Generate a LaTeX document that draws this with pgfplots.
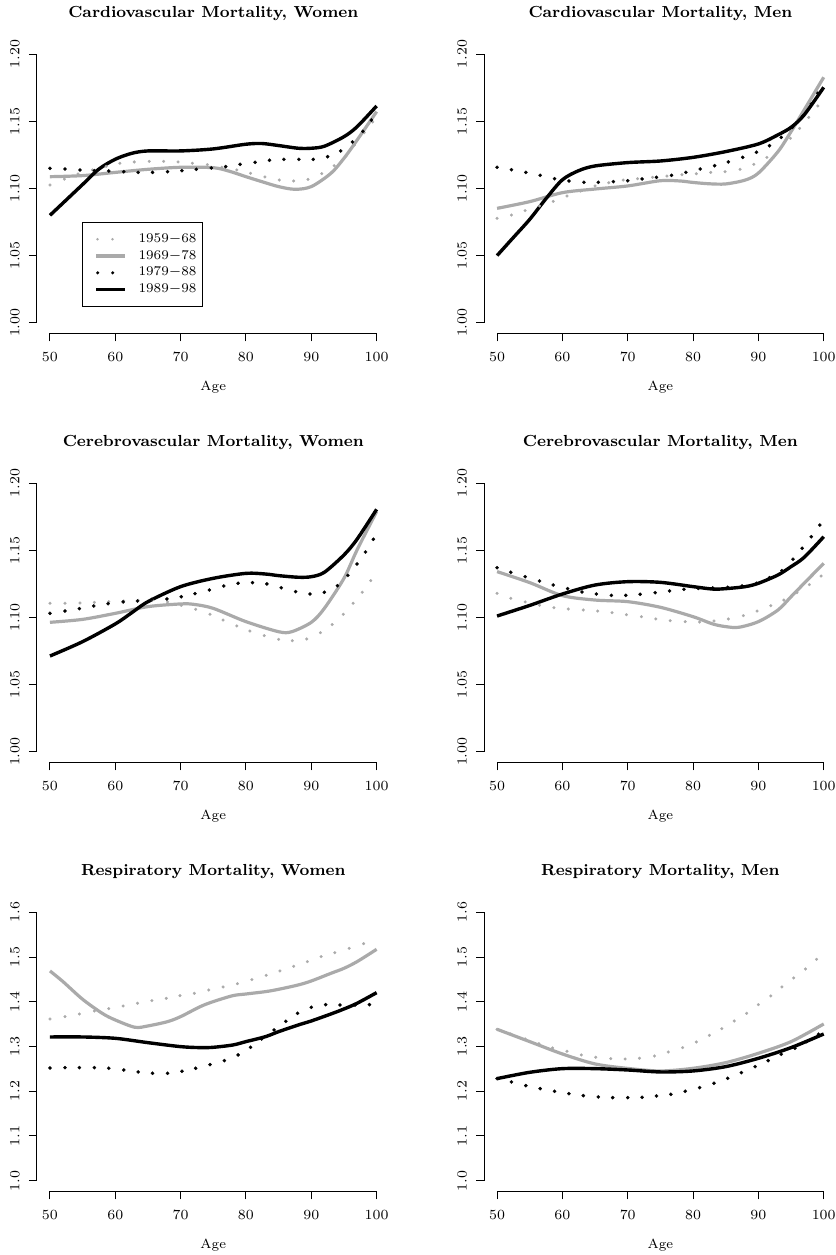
\documentclass[border=0pt]{standalone}
\usepackage{pgfplots}
\pgfplotsset{compat=1.18}
\definecolor{rgray}{RGB}{170,170,170}
\newcommand{\tfont}{\fontsize{6.67}{8}\selectfont}
\newcommand{\hfont}{\fontsize{8}{9.6}\selectfont\bfseries}
\pgfplotsset{
  rplot/.style={
    scale only axis, width=176.4pt, height=144.9pt,
    xmin=48, xmax=102,
    axis line style={draw=none},
    tick align=outside,
    xtick pos=left, ytick pos=left,
    major tick length=4pt,
    every tick/.style={black, line width=0.5pt},
    xtick={50,60,70,80,90,100},
    tick label style={font=\tfont},
    xticklabel style={anchor=center, yshift=-7.8pt},
    yticklabel style={xshift=-7pt, rotate=90, anchor=center},
    title style={font=\hfont, at={(0.5,1)}, anchor=center, yshift=9.25pt},
    xlabel={Age},
    xlabel style={font=\tfont, at={(axis description cs:0.5,0)}, anchor=center, yshift=-26.8pt},
    clip=false,
    extra description/.code={
      \draw[line width=0.5pt] (axis description cs:0.037037,0) -- (axis description cs:0.962963,0);
      \draw[line width=0.5pt] (axis description cs:0,0.037037) -- (axis description cs:0,0.962963);
    },
  },
  rowA/.style={ymin=0.992, ymax=1.208, ytick={1,1.05,1.1,1.15,1.2},
    yticklabel style={/pgf/number format/.cd, fixed, fixed zerofill, precision=2}},
  rowB/.style={ymin=0.976, ymax=1.624, ytick={1,1.1,1.2,1.3,1.4,1.5,1.6},
    yticklabel style={/pgf/number format/.cd, fixed, fixed zerofill, precision=1}},
  gdots/.style={only marks, mark=*, color=rgray, mark size=0.72pt,
    mark options={solid, draw=rgray, fill=rgray, line width=0.1pt}},
  kdots/.style={only marks, mark=*, color=black, mark size=0.85pt,
    mark options={solid, draw=black, fill=black, line width=0.1pt}},
  gline/.style={no marks, smooth, color=rgray, line width=1.6pt},
  kline/.style={no marks, smooth, color=black, line width=1.7pt},
}
\begin{document}
\begin{tikzpicture}
\useasboundingbox (0pt,0pt) rectangle (418pt,627.5pt);

% ---------- Panel 1 ----------
\begin{axis}[rplot, rowA, at={(18.45pt,605.7pt)}, anchor=north west,
  title={Cardiovascular Mortality, Women},
  legend style={at={(axis description cs:0.1287,0.3854)}, anchor=north west,
    draw=black, line width=0.5pt, font=\tfont, inner xsep=3pt, inner ysep=4.3pt,
    row sep=0pt, column sep=5.85pt, cells={anchor=west},
    nodes={inner sep=0pt, minimum height=8.4pt}},
  ]
\addplot[gdots, legend image code/.code={\fill[rgray, draw=none] (3.5pt,0pt) circle (0.72pt); \fill[rgray, draw=none] (11pt,0pt) circle (0.72pt); \path[draw opacity=0, fill opacity=0] (0pt,0pt) -- (17.3pt,0pt);}] coordinates {
(50,1.1026) (52.2,1.107) (54.3,1.1108) (56.5,1.1138) (58.6,1.1165) (60.7,1.1188) (62.9,1.1198) (65.2,1.1202) (67.4,1.1202) (69.6,1.1198) (71.8,1.1188) (74.1,1.1178) (76.3,1.1158) (78.6,1.1138) (80.7,1.1113) (82.9,1.1086) (85.1,1.1063) (87.3,1.1056) (89.5,1.1068) (91.6,1.1111) (93.5,1.117) (95.3,1.1242) (96.6,1.1324) (98.1,1.1416) (99.4,1.1496)};
\addlegendentry{1959$-$68}
\addplot[gline, legend image code/.code={\draw[rgray, line width=1.6pt] (2.8pt,0pt) -- (17.3pt,0pt); \path[draw opacity=0, fill opacity=0] (0pt,0pt) -- (17.3pt,0pt);}] coordinates {
(50,1.1088) (55,1.1096) (60,1.112) (65,1.1143) (70,1.1158) (75,1.1155) (77.5,1.1128) (80,1.1088) (82.5,1.105) (85,1.1014) (87.5,1.0994) (90,1.1014) (93,1.1113) (95,1.1225) (97,1.136) (100,1.1573)};
\addlegendentry{1969$-$78}
\addplot[kdots, legend image code/.code={\fill[black, draw=none] (3.6pt,0pt) circle (0.85pt); \fill[black, draw=none] (11.1pt,0pt) circle (0.85pt); \path[draw opacity=0, fill opacity=0] (0pt,0pt) -- (17.3pt,0pt);}] coordinates {
(50,1.115) (52.3,1.1145) (54.6,1.1138) (56.8,1.1133) (59.0,1.113) (61.3,1.1125) (63.5,1.112) (65.7,1.112) (68.0,1.1125) (70.2,1.1133) (72.4,1.1143) (74.7,1.1153) (76.9,1.1163) (79.1,1.118) (81.4,1.1195) (83.6,1.121) (85.8,1.1217) (88.1,1.1217) (90.3,1.1217) (92.5,1.1237) (94.5,1.128) (96.3,1.1347) (97.9,1.1426) (99.2,1.151)};
\addlegendentry{1979$-$88}
\addplot[kline, legend image code/.code={\draw[black, line width=1.7pt] (2.8pt,0pt) -- (17.3pt,0pt); \path[draw opacity=0, fill opacity=0] (0pt,0pt) -- (17.3pt,0pt);}] coordinates {
(50,1.080) (52.5,1.0915) (55,1.103) (57.5,1.1145) (60,1.1218) (62.5,1.1262) (65,1.128) (70,1.128) (75,1.1295) (80,1.133) (82.5,1.1335) (85,1.132) (88,1.130) (90,1.130) (92,1.1315) (95,1.1386) (97,1.146) (100,1.1615)};
\addlegendentry{1989$-$98}
\end{axis}

% ---------- Panel 2 ----------
\begin{axis}[rplot, rowA, at={(242pt,605.7pt)}, anchor=north west,
  title={Cardiovascular Mortality, Men}]
\addplot[gdots] coordinates {
(50,1.0778) (52.2,1.0802) (54.3,1.0835) (56.5,1.087) (58.6,1.0904) (60.7,1.0944) (62.8,1.0981) (65.0,1.1019) (67.1,1.1043) (69.3,1.1063) (71.5,1.1073) (73.8,1.1083) (76.0,1.1093) (78.3,1.1103) (80.5,1.111) (82.7,1.112) (84.9,1.1125) (87.2,1.1143) (89.3,1.118) (91.3,1.1232) (93.4,1.130) (94.9,1.1374) (96.3,1.1448) (97.7,1.153) (99.1,1.1615)};
\addplot[gline] coordinates {
(50,1.0852) (55,1.0902) (60,1.0969) (65,1.0996) (70,1.1019) (75,1.1058) (78,1.1056) (80,1.1045) (82.5,1.1035) (85,1.1034) (88,1.1063) (90,1.1115) (93,1.1275) (95,1.1424) (97,1.1585) (100,1.1829)};
\addplot[kdots] coordinates {
(50,1.1158) (52.2,1.114) (54.4,1.112) (56.6,1.1098) (58.8,1.1073) (61.0,1.1056) (63.3,1.1046) (65.5,1.1046) (67.8,1.1051) (70.0,1.1058) (72.2,1.1071) (74.4,1.1083) (76.7,1.1098) (78.9,1.112) (81.1,1.1145) (83.3,1.117) (85.4,1.1198) (87.6,1.1232) (89.7,1.127) (91.7,1.1319) (93.5,1.1381) (95.2,1.1456) (96.8,1.154) (98.1,1.163) (99.1,1.171)};
\addplot[kline] coordinates {
(50,1.050) (52.5,1.0635) (55,1.077) (57.5,1.0925) (60,1.1065) (62.5,1.1133) (65,1.1168) (70,1.1193) (75,1.1205) (80,1.1232) (85,1.1275) (90,1.1332) (93,1.140) (95,1.1456) (97,1.1548) (100,1.1754)};
\end{axis}

% ---------- Panel 3 ----------
\begin{axis}[rplot, rowA, at={(18.45pt,391.2pt)}, anchor=north west,
  title={Cerebrovascular Mortality, Women}]
\addplot[gdots] coordinates {
(50,1.1106) (52.3,1.1106) (54.6,1.1108) (56.8,1.1113) (59.0,1.1118) (61.3,1.1123) (63.5,1.1128) (65.7,1.113) (68.0,1.1116) (70.1,1.109) (72.3,1.1061) (74.5,1.1024) (76.5,1.0981) (78.6,1.0937) (80.6,1.0899) (82.8,1.0865) (85.0,1.0837) (87.1,1.0827) (89.3,1.084) (91.4,1.0887) (93.2,1.0947) (94.9,1.1024) (96.4,1.1106) (97.8,1.1188) (99.1,1.1275)};
\addplot[gline] coordinates {
(50,1.0964) (55,1.0986) (60,1.1031) (65,1.1081) (70,1.1101) (72,1.1098) (75,1.1068) (80,1.0969) (85,1.0894) (87,1.0894) (90,1.0964) (92,1.1068) (95,1.1292) (97,1.1503) (100,1.1789)};
\addplot[kdots] coordinates {
(50,1.1031) (52.3,1.1048) (54.5,1.1066) (56.7,1.1086) (58.9,1.1103) (61.2,1.1116) (63.4,1.1123) (65.6,1.1135) (67.9,1.1138) (70.1,1.1155) (72.2,1.1178) (74.4,1.1205) (76.6,1.1235) (78.8,1.1255) (81.0,1.126) (83.2,1.125) (85.4,1.1222) (87.6,1.1193) (89.8,1.1175) (92.0,1.1188) (94.0,1.1237) (95.6,1.1314) (97.0,1.1399) (98.3,1.1488) (99.5,1.1583)};
\addplot[kline] coordinates {
(50,1.0713) (55,1.082) (60,1.0952) (62.5,1.1035) (65,1.1118) (70,1.123) (75,1.1292) (80,1.1329) (83,1.1324) (85,1.1312) (88,1.130) (90,1.1304) (92,1.1337) (95,1.1466) (97,1.1583) (100,1.1806)};
\end{axis}

% ---------- Panel 4 ----------
\begin{axis}[rplot, rowA, at={(242pt,391.2pt)}, anchor=north west,
  title={Cerebrovascular Mortality, Men}]
\addplot[gdots] coordinates {
(50,1.118) (52.1,1.1143) (54.3,1.1116) (56.5,1.1091) (58.7,1.1073) (60.9,1.1063) (63.2,1.1056) (65.4,1.1048) (67.6,1.1036) (69.8,1.1021) (72.1,1.1006) (74.3,1.0989) (76.5,1.0976) (78.8,1.0969) (81.0,1.0966) (83.2,1.0974) (85.4,1.0989) (87.7,1.1014) (89.8,1.1048) (91.9,1.1088) (93.9,1.113) (95.9,1.1185) (97.8,1.1245) (99.6,1.1309)};
\addplot[gline] coordinates {
(50,1.1342) (55,1.126) (60,1.1163) (65,1.113) (70,1.1118) (75,1.1076) (80,1.1006) (83,1.0952) (85,1.0932) (87,1.0927) (90,1.0969) (93,1.1056) (95,1.1155) (97,1.1255) (100,1.1404)};
\addplot[kdots] coordinates {
(50,1.1371) (52.1,1.1337) (54.3,1.1304) (56.5,1.1272) (58.6,1.1242) (60.8,1.1215) (63.0,1.119) (65.2,1.1175) (67.5,1.1165) (69.7,1.1165) (71.9,1.1173) (74.2,1.1185) (76.4,1.1198) (78.6,1.121) (80.8,1.1217) (83.0,1.122) (85.3,1.1225) (87.5,1.1235) (89.7,1.1255) (91.7,1.1297) (93.6,1.1349) (95.3,1.1434) (96.7,1.1516) (98.1,1.1602) (99.4,1.1689)};
\addplot[kline] coordinates {
(50,1.1011) (55,1.109) (60,1.1175) (65,1.1242) (70,1.1267) (75,1.1262) (80,1.123) (83,1.1212) (85,1.1215) (88,1.123) (90,1.1255) (93,1.1317) (95,1.1379) (97,1.1448) (100,1.1602)};
\end{axis}

% ---------- Panel 5 ----------
\begin{axis}[rplot, rowB, at={(18.45pt,176.7pt)}, anchor=north west,
  title={Respiratory Mortality, Women}]
\addplot[gdots] coordinates {
(50,1.3615) (52.3,1.3668) (54.5,1.3727) (56.8,1.3794) (59.0,1.3847) (61.2,1.3906) (63.4,1.3966) (65.6,1.4025) (67.8,1.4077) (69.9,1.4137) (72.1,1.4189) (74.3,1.4264) (76.5,1.4331) (78.7,1.4405) (80.9,1.4495) (83.1,1.4592) (85.2,1.4689) (87.3,1.4793) (89.4,1.4897) (91.5,1.5009) (93.6,1.5098) (95.8,1.5195) (98.0,1.53)};
\addplot[gline] coordinates {
(50,1.4689) (52,1.445) (55,1.4055) (58,1.3742) (60,1.3593) (63,1.343) (65,1.346) (68,1.3556) (70,1.3668) (73,1.3891) (75,1.4004) (78,1.4137) (80,1.4174) (83,1.4227) (85,1.4279) (88,1.4376) (90,1.4465) (93,1.4636) (95,1.4748) (97,1.4897) (100,1.5173)};
\addplot[kdots] coordinates {
(50,1.252) (52.3,1.2528) (54.5,1.2528) (56.8,1.2528) (59.0,1.2513) (61.3,1.2475) (63.5,1.2431) (65.7,1.2401) (68.0,1.2401) (70.2,1.2446) (72.3,1.2513) (74.5,1.2595) (76.7,1.2684) (78.8,1.2811) (80.7,1.2982) (82.4,1.3168) (84.3,1.337) (86.1,1.3563) (87.9,1.3742) (90.0,1.3876) (92.2,1.3936) (94.4,1.3928) (96.7,1.3928) (98.9,1.3936)};
\addplot[kline] coordinates {
(50,1.3213) (55,1.3213) (60,1.3183) (65,1.3086) (70,1.2997) (73,1.2975) (75,1.2982) (78,1.3034) (80,1.3109) (83,1.3221) (85,1.3332) (88,1.3481) (90,1.3571) (93,1.3727) (95,1.3839) (97,1.3966) (100,1.4204)};
\end{axis}

% ---------- Panel 6 ----------
\begin{axis}[rplot, rowB, at={(242pt,176.7pt)}, anchor=north west,
  title={Respiratory Mortality, Men}]
\addplot[gdots] coordinates {
(50,1.3385) (52.1,1.328) (54.3,1.3168) (56.4,1.3064) (58.5,1.2967) (60.7,1.2893) (62.9,1.2811) (65.1,1.2759) (67.4,1.2729) (69.6,1.2721) (71.8,1.2736) (74.1,1.2788) (76.2,1.2878) (78.4,1.2975) (80.5,1.3101) (82.5,1.325) (84.4,1.3399) (86.3,1.3571) (88.2,1.3742) (90.0,1.3936) (91.9,1.413) (93.6,1.4331) (95.4,1.4532) (97.2,1.4733) (98.9,1.4949)};
\addplot[gline] coordinates {
(50,1.3385) (55,1.3109) (60,1.2833) (65,1.261) (70,1.251) (75,1.2453) (80,1.2513) (85,1.2639) (90,1.2848) (95,1.3109) (100,1.3504)};
\addplot[kdots] coordinates {
(50,1.2282) (52.2,1.2207) (54.4,1.2125) (56.6,1.2058) (58.8,1.1998) (61.0,1.1946) (63.2,1.1902) (65.5,1.1872) (67.7,1.1857) (70.0,1.1857) (72.2,1.1864) (74.4,1.1894) (76.6,1.1931) (78.8,1.1998) (81.0,1.2081) (83.2,1.2177) (85.3,1.2289) (87.4,1.2416) (89.5,1.255) (91.5,1.2684) (93.5,1.2826) (95.6,1.296) (97.4,1.3109) (99.2,1.3273)};
\addplot[kline] coordinates {
(50,1.2282) (55,1.2423) (60,1.2505) (65,1.2505) (70,1.2475) (75,1.2431) (80,1.2453) (85,1.255) (90,1.2736) (95,1.2975) (100,1.328)};
\end{axis}
\end{tikzpicture}
\end{document}
